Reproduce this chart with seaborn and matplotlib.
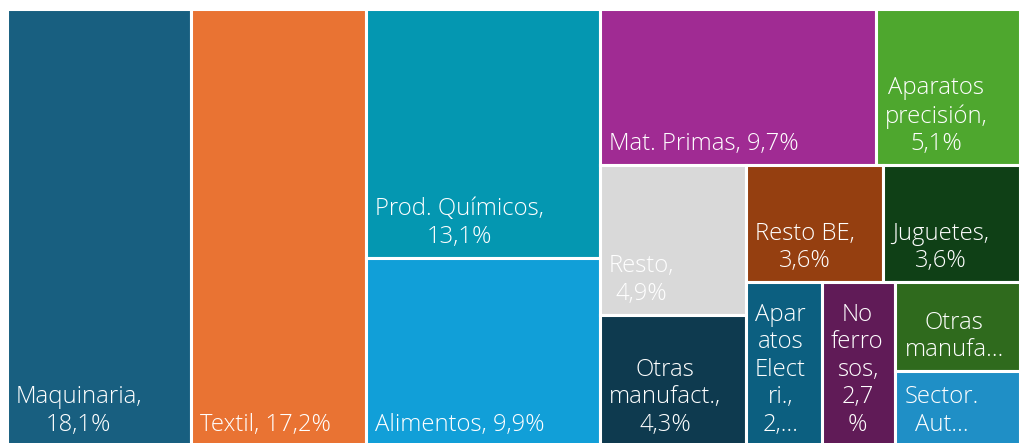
import matplotlib
matplotlib.use("Agg")
import matplotlib.pyplot as plt
import seaborn as sns
from matplotlib.patches import Rectangle

# ---- data ----
categories = ["Maquinaria", "Textil", "Prod. Químicos", "Alimentos", "Mat. Primas",
              "Aparatos precisión", "Resto", "Otras manufact.", "Resto BE", "Juguetes",
              "Aparatos Electri.", "No ferrosos", "Otras manufa", "Sector. Aut"]
shares = [18.1, 17.2, 13.1, 9.9, 9.7, 5.1, 4.9, 4.3, 3.6, 3.6, 2.8, 2.7, 2.5, 2.1]
labels = ["Maquinaria,\n18,1%", "Textil, 17,2%", "Prod. Químicos,\n13,1%", "Alimentos, 9,9%",
          "Mat. Primas, 9,7%", "Aparatos\nprecisión,\n5,1%", "Resto,\n4,9%",
          "Otras\nmanufact.,\n4,3%", "Resto BE,\n3,6%", "Juguetes,\n3,6%",
          "Apar\natos\nElect\nri.,\n2,…", "No\nferro\nsos,\n2,7\n%", "Otras\nmanufa…",
          "Sector.\nAut…"]
colors = ["#185f80", "#e97333", "#0497b1", "#119fd8", "#a02b93", "#4ea72e",
          "#d9d9d9", "#0e3a4f", "#953f10", "#0f4016", "#0c5f80", "#601b57",
          "#2f6a1d", "#1f8fc6"]

# slice-and-dice structure (h: side by side, v: stacked); leaves are indices
structure = ("h", [0, 1, ("v", [2, 3]),
                   ("v", [("h", [4, 5]),
                          ("h", [("v", [6, 7]),
                                 ("v", [("h", [8, 9]),
                                        ("h", [10, 11, ("v", [12, 13])])])])])])


def total(node):
    if isinstance(node, int):
        return shares[node]
    return sum(total(c) for c in node[1])


def layout(node, x, y, w, h, out):
    if isinstance(node, int):
        out.append((node, x, y, w, h))
        return
    d, children = node
    t = total(node)
    pos = x if d == "h" else y
    for c in children:
        f = total(c) / t
        if d == "h":
            layout(c, pos, y, w * f, h, out)
            pos += w * f
        else:
            layout(c, x, pos, w, h * f, out)
            pos += h * f


sns.set_style("white")
plt.rcParams["font.family"] = ["Open Sans", "DejaVu Sans"]

W, H = 1019, 443
left_px, right_px, top_px, bottom_px = 6.5, 1020.5, 8.5, 446
fig = plt.figure(figsize=(W / 100, H / 100), dpi=100)
ax = fig.add_axes([left_px / W, (H - bottom_px) / H,
                   (right_px - left_px) / W, (bottom_px - top_px) / H])
ax.set_xlim(0, 1)
ax.set_ylim(1, 0)
ax.axis("off")

rects = []
layout(structure, 0, 0, 1, 1, rects)
for i, x, y, w, h in rects:
    ax.add_patch(Rectangle((x, y), w, h, facecolor=colors[i], edgecolor="white",
                           linewidth=2.2))
    ax.annotate(labels[i], xy=(x, y + h), xytext=(9, 9), textcoords="offset pixels",
                ha="left", va="bottom", multialignment="center", color="white",
                fontsize=17.2, fontweight="light", linespacing=1.2)

fig.savefig("out.png", dpi=100)
